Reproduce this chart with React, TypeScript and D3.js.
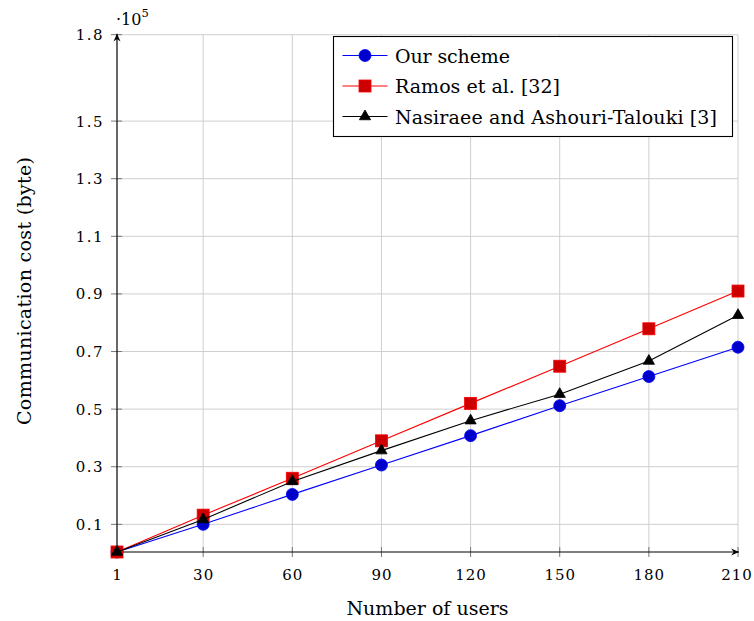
import React from "react";
import * as d3 from "d3";

const users = [1, 30, 60, 90, 120, 150, 180, 210];
const ourScheme = [400, 10000, 20400, 30600, 40800, 51200, 61300, 71500];
const ramos = [400, 13200, 26000, 39000, 52000, 64900, 77900, 91000];
const nasiraee = [400, 11700, 24900, 35600, 46000, 55200, 66700, 82600];

const xTicks = [1, 30, 60, 90, 120, 150, 180, 210];
const yTicks = [0.1, 0.3, 0.5, 0.7, 0.9, 1.1, 1.3, 1.5, 1.8];

const seriesNames = ["Our scheme", "Ramos et al. [32]", "Nasiraee and Ashouri-Talouki [3]"];

const FONT = "'DejaVu Serif', serif";

export default function App() {
  const W = 754, H = 621;
  const x = d3.scaleLinear().domain([1, 210]).range([117, 738]);
  const y = d3.scaleLinear().domain([400, 180000]).range([552, 34.7]);
  const line = d3.line<number>().x((_, i) => x(users[i])).y((d) => y(d));

  const series = [
    { name: seriesNames[0], data: ourScheme, stroke: "#0000ff", fill: "#0000cc", mark: "circle" },
    { name: seriesNames[1], data: ramos, stroke: "#ff0000", fill: "#cc0000", mark: "square" },
    { name: seriesNames[2], data: nasiraee, stroke: "#000000", fill: "#000000", mark: "triangle" },
  ];

  const legendWidths = [115, 165, 322];

  const marker = (m: string, cx: number, cy: number, stroke: string, fill: string, key: any) => {
    if (m === "circle") return <circle key={key} cx={cx} cy={cy} r={6} fill={fill} stroke={stroke} strokeWidth={0.8} />;
    if (m === "square") return <rect key={key} x={cx - 6} y={cy - 6} width={12} height={12} fill={fill} stroke={stroke} strokeWidth={0.8} />;
    const r = 6.5;
    const pts = [90, 210, 330].map((a) => {
      const rad = (a * Math.PI) / 180;
      return `${cx + r * Math.cos(rad)},${cy - r * Math.sin(rad)}`;
    }).join(" ");
    return <polygon key={key} points={pts} fill={fill} stroke={stroke} strokeWidth={0.8} />;
  };

  const x0 = x(1), x1 = x(210), yb = y(400), yt = y(180000);
  const tickStyle = { fontFamily: FONT, fontSize: "15px" };
  const bigStyle = { fontFamily: FONT, fontSize: "19px" };

  return (
    <svg width={W} height={H} style={{ position: "absolute", left: 0, top: 0 }}>
      <defs>
        <marker id="arr" viewBox="0 0 10 10" refX="9" refY="5" markerWidth="8" markerHeight="8" orient="auto">
          <path d="M0,1 L9,5 L0,9 L3,5 Z" fill="#000" />
        </marker>
      </defs>
      {xTicks.map((t) => (
        <line key={"gx" + t} x1={x(t)} x2={x(t)} y1={yb} y2={yt} stroke="#cfcfcf" strokeWidth={1} />
      ))}
      {yTicks.map((t) => (
        <line key={"gy" + t} x1={x0} x2={x1} y1={y(t * 1e5)} y2={y(t * 1e5)} stroke="#cfcfcf" strokeWidth={1} />
      ))}
      {xTicks.map((t) => (
        <line key={"tx" + t} x1={x(t)} x2={x(t)} y1={yb - 5} y2={yb + 5} stroke="#777" strokeWidth={1} />
      ))}
      {yTicks.map((t) => (
        <line key={"ty" + t} x1={x0 - 6} x2={x0 + 5} y1={y(t * 1e5)} y2={y(t * 1e5)} stroke="#777" strokeWidth={1} />
      ))}
      <line x1={x0} x2={x0} y1={yb} y2={yt - 1} stroke="#000" strokeWidth={1.1} markerEnd="url(#arr)" />
      <line x1={x0} x2={x1 + 1} y1={yb} y2={yb} stroke="#000" strokeWidth={1.1} markerEnd="url(#arr)" />
      {xTicks.map((t) => (
        <text key={"lx" + t} x={Math.min(x(t) + 0.5, 737)} y={580} textAnchor="middle" style={{ ...tickStyle, letterSpacing: "1px" }}>
          {t}
        </text>
      ))}
      {yTicks.map((t) => (
        <text key={"ly" + t} x={104} y={y(t * 1e5) + 5.5} textAnchor="end" style={{ ...tickStyle, letterSpacing: "1.5px" }}>
          {t.toFixed(1)}
        </text>
      ))}
      <text x={116} y={25} style={{ ...tickStyle, fontSize: "16px" }}>
        ·10
        <tspan dy={-8} style={{ fontSize: "11.5px" }}>5</tspan>
      </text>
      {series.map((s, si) => (
        <g key={"s" + si}>
          <path d={line(s.data) || ""} fill="none" stroke={s.stroke} strokeWidth={1.1} />
          {s.data.map((v, i) => marker(s.mark, x(users[i]), y(v), s.stroke, s.fill, i))}
        </g>
      ))}
      <rect x={333.5} y={36.5} width={399} height={100} fill="#fff" stroke="#000" strokeWidth={1.1} />
      {series.map((s, i) => {
        const cy = 55.5 + i * 30.5;
        return (
          <g key={"lg" + i}>
            <line x1={342.5} x2={387.5} y1={cy} y2={cy} stroke={s.stroke} strokeWidth={1.1} />
            {marker(s.mark, 365, cy, s.stroke, s.fill, "m")}
            <text x={395} y={cy + 7} style={bigStyle} textLength={legendWidths[i]} lengthAdjust="spacing">
              {s.name}
            </text>
          </g>
        );
      })}
      <text x={346.5} y={615} style={bigStyle} textLength={162} lengthAdjust="spacing">Number of users</text>
      <text transform={`translate(31,${291}) rotate(-90)`} textAnchor="middle" style={bigStyle} textLength={268} lengthAdjust="spacing">
        Communication cost (byte)
      </text>
    </svg>
  );
}
